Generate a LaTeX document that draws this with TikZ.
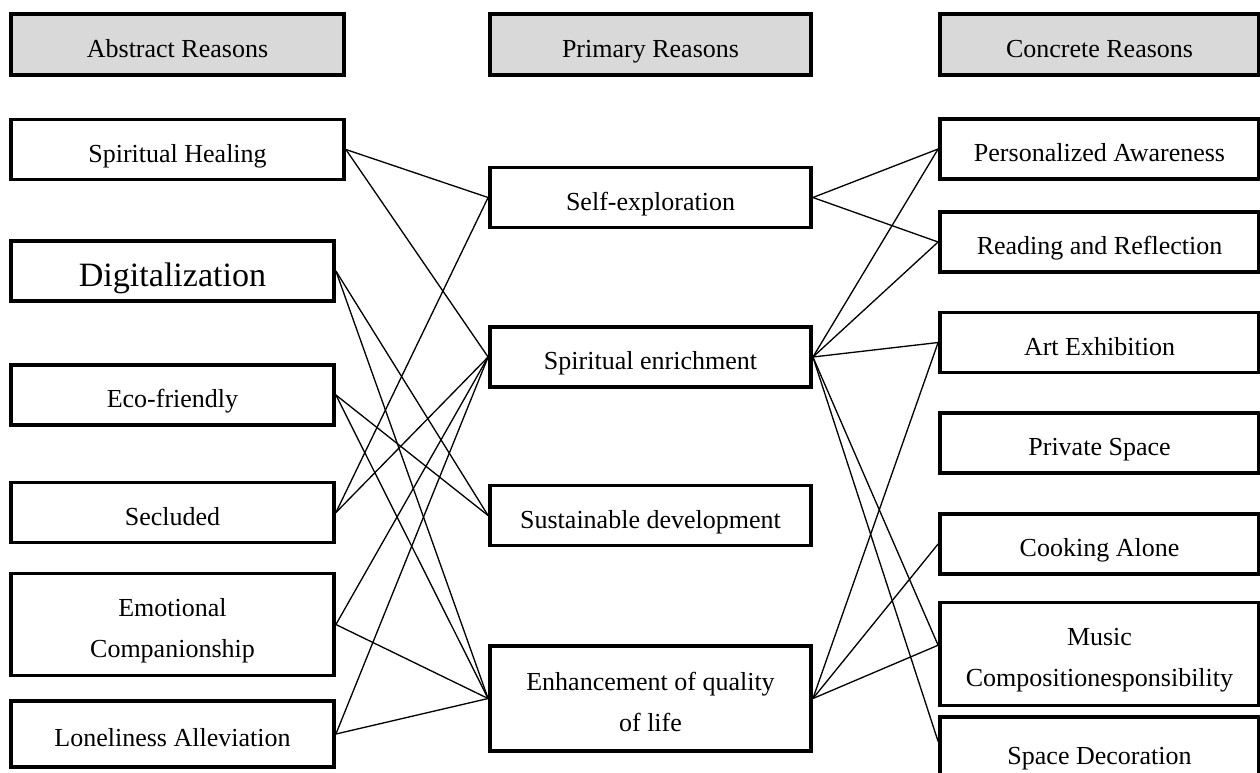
\documentclass[tikz,border=0pt]{standalone}
\usepackage{fontspec}
\setmainfont{Liberation Serif}
\usetikzlibrary{positioning}

\begin{document}
\begin{tikzpicture}[
      x=0.02cm,y=-0.02cm,
      bx/.style={rectangle,draw=black,line width=2.2pt,fill=white,align=center,inner sep=0pt,minimum height=1.2cm,font=\fontsize{14.8}{23.4}\selectfont},
      one/.style={text height=17pt,text depth=2.5pt},
      two/.style={text height=40pt,text depth=2.5pt},
      hd/.style={bx,one,fill=gray!30,minimum height=1.22cm},
      lft/.style={bx,minimum width=6.46cm},
      mid/.style={bx,minimum width=6.42cm},
      rgt/.style={bx,minimum width=6.38cm},
      ln/.style={line width=0.75pt}
    ]
    \useasboundingbox (0,0) rectangle (1260,772);
    % column headers
    \node[hd,minimum width=6.66cm] (abstract) at (177.5,44.5) {Abstract Reasons};
    \node[hd,minimum width=6.42cm] (primary) at (650.5,44.5) {Primary Reasons};
    \node[hd,minimum width=6.38cm] (concrete) at (1099.5,44.5) {Concrete Reasons};
    % abstract reasons
    \node[bx,one,minimum width=6.66cm] (healing) at (177.5,149.5) {Spiritual Healing};
    \node[lft,text height=21pt,text depth=3pt,font=\fontsize{19.4}{23.4}\selectfont] (digital) at (172.5,271) {Digitalization};
    \node[lft,one] (eco) at (172.5,395) {Eco-friendly};
    \node[lft,one] (secluded) at (172.5,512.5) {Secluded};
    \node[lft,two,minimum height=2.04cm] (emotional) at (172.5,624.5) {Emotional\\Companionship};
    \node[lft,one,minimum height=1.32cm] (lonely) at (172.5,734) {Loneliness Alleviation};
    % primary reasons
    \node[mid,one] (selfexp) at (650.5,197.5) {Self-exploration};
    \node[mid,one] (spirit) at (650.5,357) {Spiritual enrichment};
    \node[mid,one] (sustain) at (650.5,515.5) {Sustainable development};
    \node[mid,two,minimum height=2.1cm] (quality) at (650.5,698.5) {Enhancement of quality\\of life};
    % concrete reasons
    \node[rgt,one] (aware) at (1099.5,149) {Personalized Awareness};
    \node[rgt,one] (reading) at (1099.5,242) {Reading and Reflection};
    \node[rgt,one] (art) at (1099.5,342.5) {Art Exhibition};
    \node[rgt,one] (private) at (1099.5,443) {Private Space};
    \node[rgt,one] (cooking) at (1099.5,544) {Cooking Alone};
    \node[rgt,two,minimum height=2.06cm] (music) at (1099.5,654) {Music\\Compositionesponsibility};
    \node[rgt,one,minimum height=1.4cm] (decor) at (1099.5,752) {Space Decoration};
    % abstract -> primary
    \draw[ln] (healing.east) -- (selfexp.west);
    \draw[ln] (healing.east) -- (spirit.west);
    \draw[ln] (digital.east) -- (sustain.west);
    \draw[ln] (digital.east) -- (quality.west);
    \draw[ln] (eco.east) -- (sustain.west);
    \draw[ln] (eco.east) -- (quality.west);
    \draw[ln] (secluded.east) -- (selfexp.west);
    \draw[ln] (secluded.east) -- (spirit.west);
    \draw[ln] (emotional.east) -- (spirit.west);
    \draw[ln] (emotional.east) -- (quality.west);
    \draw[ln] (lonely.east) -- (spirit.west);
    \draw[ln] (lonely.east) -- (quality.west);
    % primary -> concrete
    \draw[ln] (selfexp.east) -- (aware.west);
    \draw[ln] (selfexp.east) -- (reading.west);
    \draw[ln] (spirit.east) -- (aware.west);
    \draw[ln] (spirit.east) -- (reading.west);
    \draw[ln] (spirit.east) -- (art.west);
    \draw[ln] (spirit.east) -- ([yshift=5pt]music.west);
    \draw[ln] (spirit.east) -- ([yshift=6pt]decor.west);
    \draw[ln] (quality.east) -- (art.west);
    \draw[ln] (quality.east) -- (cooking.west);
    \draw[ln] (quality.east) -- ([yshift=5pt]music.west);
  \end{tikzpicture}
\end{document}
